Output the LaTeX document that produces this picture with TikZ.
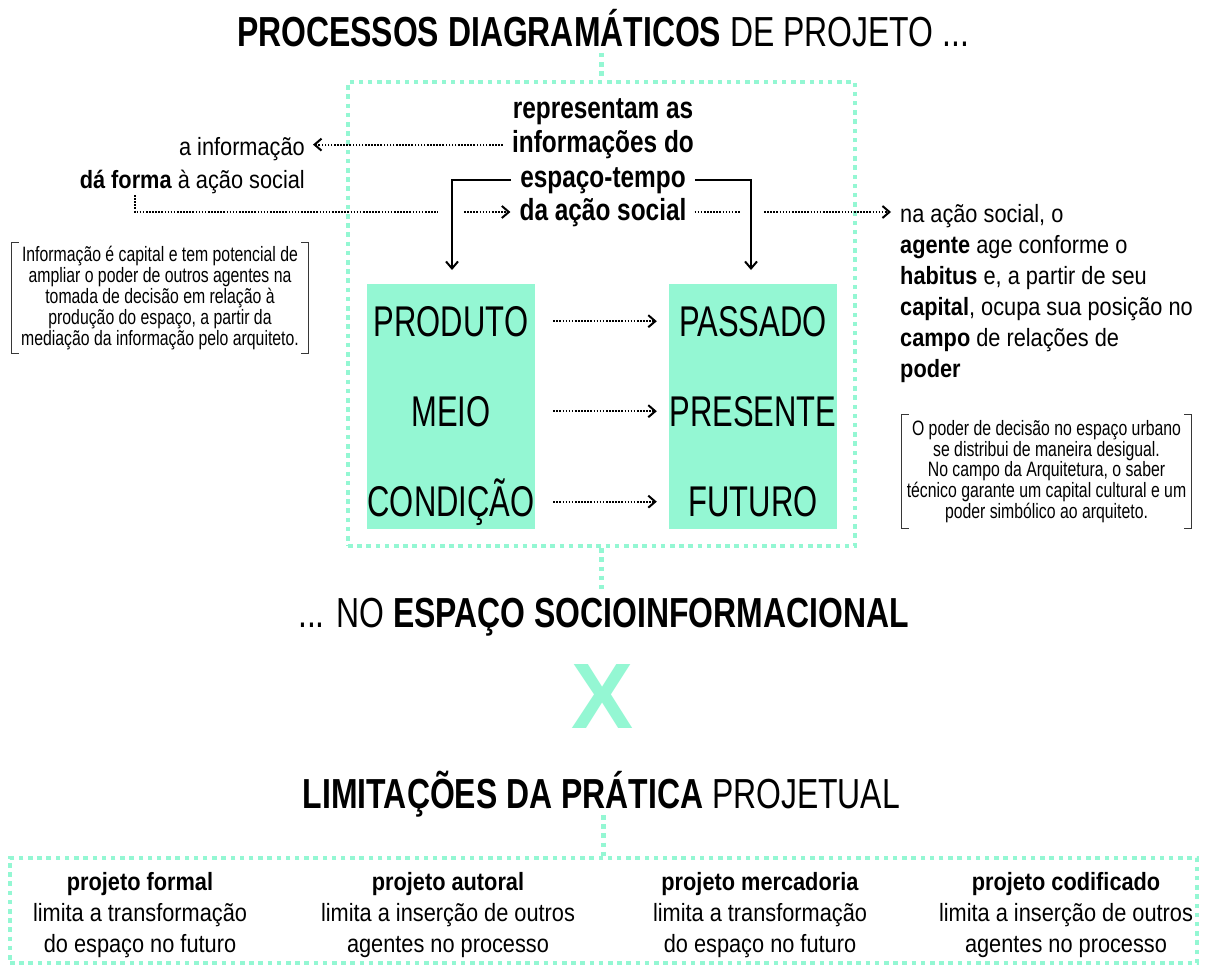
\documentclass[tikz,border=0pt]{standalone}
\usepackage{fontspec}
\setmainfont{Liberation Sans}
\newfontfamily\ftitle{Liberation Sans}[FakeStretch=0.76]
\newfontfamily\flabel{Liberation Sans}[FakeStretch=0.72]
\newfontfamily\fmid{Liberation Sans}[FakeStretch=0.80]
\newfontfamily\fside{Liberation Sans}[FakeStretch=0.87]
\newfontfamily\fcross{Liberation Sans}
\usetikzlibrary{arrows.meta}
\definecolor{mint}{RGB}{148,247,211}
\definecolor{brk}{RGB}{55,55,55}
\tikzset{
  mintdots/.style={draw=mint, line width=4.5pt, dash pattern=on 4.5pt off 4.7pt},
  blackdots/.style={draw=black, line width=1.8pt, dash pattern=on 1.6pt off 1.5pt},
  dotarrow/.style={blackdots, -{Straight Barb[length=7pt,width=12pt,line width=2pt]}},
  solidarrow/.style={draw=black, line width=1.9pt, -{Straight Barb[length=7pt,width=12pt,line width=2pt]}},
  txt/.style={inner sep=0pt, anchor=base},
  brack/.style={draw=brk, line width=1.2pt},
  bigtitle/.style={txt, font={\ftitle\fontsize{42}{42}\selectfont}},
  biglabel/.style={txt, font={\flabel\fontsize{43}{43}\selectfont}},
  midtext/.style={txt, font={\fmid\bfseries\fontsize{30.5}{30.5}\selectfont}},
  sidetext/.style={txt, font={\fside\fontsize{25}{25}\selectfont}},
  notetext/.style={inner sep=0pt, align=center, font={\ftitle\fontsize{20.8}{20.8}\selectfont}},
  coltext/.style={inner sep=0pt, anchor=north, align=center, font={\fside\fontsize{25}{31}\selectfont}},
  greenbox/.style={fill=mint, inner sep=0pt, minimum width=168pt, minimum height=245.5pt},
}
\begin{document}
\begin{tikzpicture}[x=1pt,y=-1pt]
\useasboundingbox (0,0) rectangle (1206,966);
\fill[white] (0,0) rectangle (1206,966);

% title
\node[bigtitle] (title) at (603,47) {\bfseries PROCESSOS DIAGRAMÁTICOS \mdseries DE PROJETO ...};

% main dotted box
\node[mintdots, inner sep=0pt, minimum width=507pt, minimum height=464pt] (mainbox) at (601.5,314) {};
\coordinate (t1) at (601.5,53);
\draw[mintdots] (t1) -- (mainbox.north);

% green boxes
\node[greenbox] (gl) at (451,406.3) {};
\node[greenbox] (gr) at (753,406.3) {};
\node[biglabel] (p1) at (451,336) {PRODUTO};
\node[biglabel] (p2) at (451,426) {MEIO};
\node[biglabel] (p3) at (451,516) {CONDIÇÃO};
\node[biglabel] (q1) at (753,336) {PASSADO};
\node[biglabel] (q2) at (753,426) {PRESENTE};
\node[biglabel] (q3) at (753,516) {FUTURO};
\path ([xshift=18pt]gl.east) coordinate (gle);
\path ([xshift=-12pt]gr.west) coordinate (grw);
\draw[dotarrow] (gle |- p1) -- (grw |- p1);
\draw[dotarrow] (gle |- p2) -- (grw |- p2);
\draw[dotarrow] (gle |- p3) -- (grw |- p3);

% centre text
\node[midtext] (c1) at (603,118) {representam as};
\node[midtext] (c2) at (603,152.5) {informações do};
\node[midtext] (c3) at (603,187) {espaço-tempo};
\node[midtext] (c4) at (603,220) {da ação social};

% left texts
\node[sidetext, anchor=base east] (ai) at (305,155) {a informação};
\node[sidetext, anchor=base east] (df) at (305,188) {\textbf{dá forma} à ação social};
\path ([xshift=-9pt]c2.west) coordinate (c2w);
\draw[dotarrow, shorten >=8pt] (c2w) -- (c2w -| ai.east);

\coordinate (d0) at (135,195);
\coordinate (d1) at (438,212);
\coordinate (d2) at (464,212);
\draw[blackdots] (d0) |- (d1);
\draw[dotarrow, shorten >=9pt] (d2) -- (d2 -| c4.west);

% solid arrows
\coordinate (s1) at (452,270);
\coordinate (s2) at (751,270);
\draw[solidarrow] ([xshift=-9pt]c3.west) -| (s1);
\draw[solidarrow] ([xshift=9pt]c3.east) -| (s2);

% right texts
\node[sidetext, anchor=base west] (r1) at (900,222) {na ação social, o};
\node[sidetext, anchor=base west] (r2) at (900,253) {\textbf{agente} age conforme o};
\node[sidetext, anchor=base west] (r3) at (900,284) {\textbf{habitus} e, a partir de seu};
\node[sidetext, anchor=base west] (r4) at (900,315.5) {\textbf{capital}, ocupa sua posição no};
\node[sidetext, anchor=base west] (r5) at (900,346.5) {\textbf{campo} de relações de};
\node[sidetext, anchor=base west] (r6) at (900,377) {\textbf{poder}};

\path ([xshift=8pt]c4.east) coordinate (c4e);
\coordinate (e1) at (740,212);
\coordinate (e2) at (764,212);
\draw[blackdots] (c4e |- e1) -- (e1);
\draw[dotarrow, shorten >=9pt] (e2) -- (e2 -| r1.west);

% bracket notes
\node[notetext, minimum width=296pt, minimum height=110pt] (bl) at (160,298) {Informação é capital e tem potencial de\\ampliar o poder de outros agentes na\\tomada de decisão em relação à\\produção do espaço, a partir da\\mediação da informação pelo arquiteto.};
\draw[brack] ([xshift=7pt]bl.north west) -- (bl.north west) -- (bl.south west) -- ([xshift=7pt]bl.south west);
\draw[brack] ([xshift=-7pt]bl.north east) -- (bl.north east) -- (bl.south east) -- ([xshift=-7pt]bl.south east);

\node[notetext, minimum width=289pt, minimum height=113pt] (br) at (1046.5,471.5) {O poder de decisão no espaço urbano\\se distribui de maneira desigual.\\No campo da Arquitetura, o saber\\técnico garante um capital cultural e um\\poder simbólico ao arquiteto.};
\draw[brack] ([xshift=7pt]br.north west) -- (br.north west) -- (br.south west) -- ([xshift=7pt]br.south west);
\draw[brack] ([xshift=-7pt]br.north east) -- (br.north east) -- (br.south east) -- ([xshift=-7pt]br.south east);

% middle titles
\coordinate (m1) at (601.5,589);
\draw[mintdots] (mainbox.south) -- (m1);
\node[bigtitle] (mid) at (603.5,627) {... NO \bfseries ESPAÇO SOCIOINFORMACIONAL};
\node[txt, font={\fcross\bfseries\fontsize{93}{93}\selectfont}, text=mint] (xx) at (603,728) {X};
\node[bigtitle] (lim) at (601.5,808) {\bfseries LIMITAÇÕES DA PRÁTICA \mdseries PROJETUAL};

% bottom box
\node[mintdots, inner sep=0pt, minimum width=1187pt, minimum height=105pt] (botbox) at (603.5,910.5) {};
\coordinate (m2) at (603.5,815);
\draw[mintdots] (m2) -- (botbox.north);

\node[coltext] (k1) at (140,871.8) {\textbf{projeto formal}\\limita a transformação\\do espaço no futuro};
\node[coltext] (k2) at (448,871.8) {\textbf{projeto autoral}\\limita a inserção de outros\\agentes no processo};
\node[coltext] (k3) at (760,871.8) {\textbf{projeto mercadoria}\\limita a transformação\\do espaço no futuro};
\node[coltext] (k4) at (1066,871.8) {\textbf{projeto codificado}\\limita a inserção de outros\\agentes no processo};
\end{tikzpicture}
\end{document}
